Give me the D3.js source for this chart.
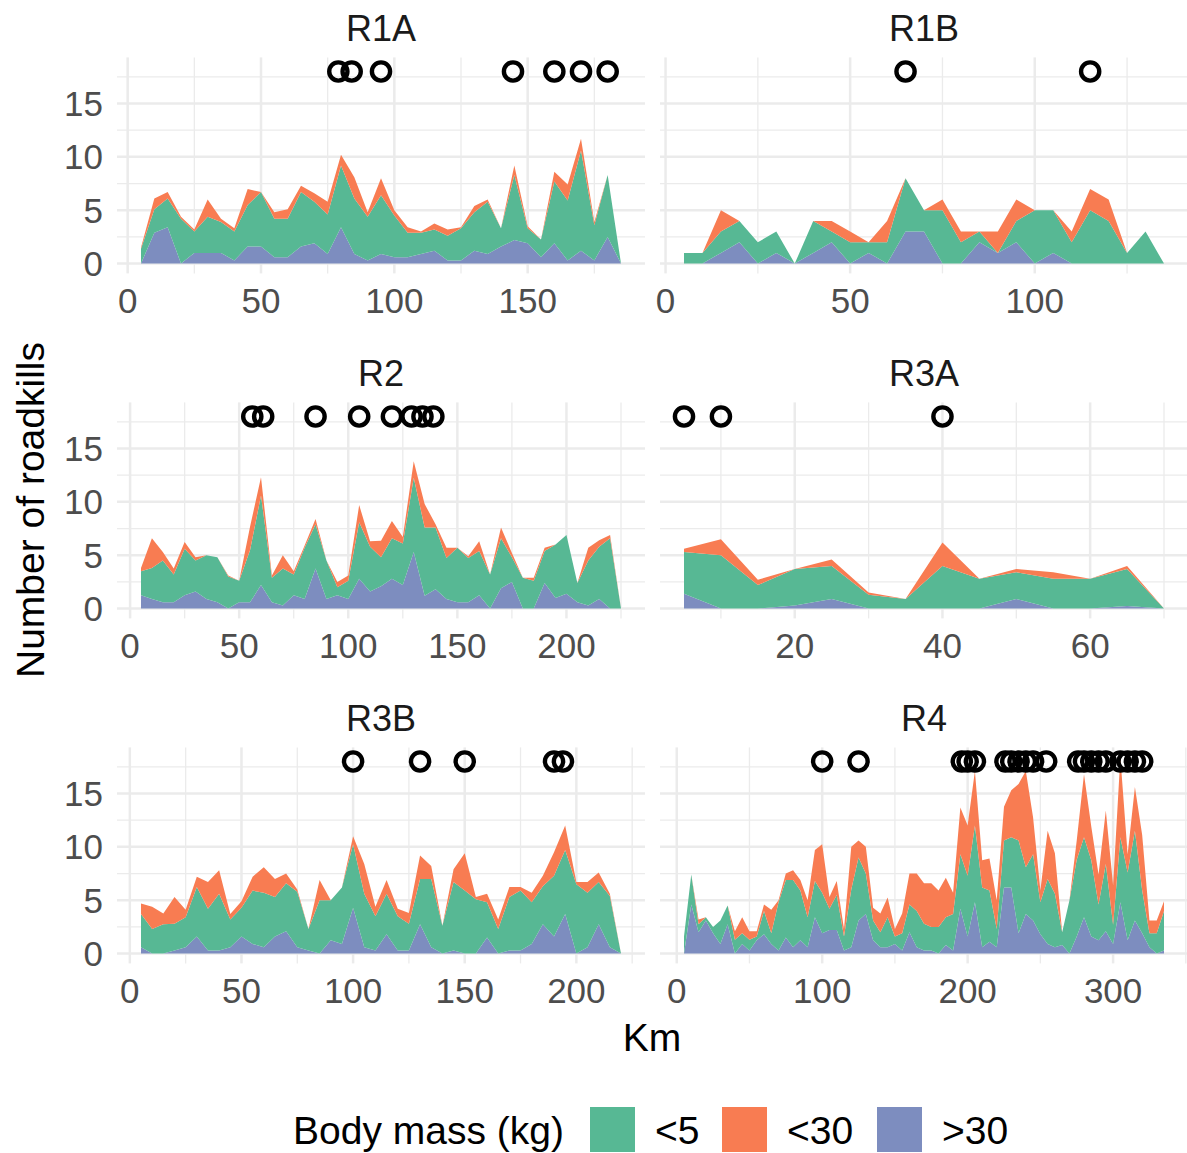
<!DOCTYPE html>
<html><head><meta charset="utf-8">
<script src="https://cdn.jsdelivr.net/npm/d3@7"></script>
<style>
body{margin:0;background:#fff}
text{font-family:"Liberation Sans",Arial,Helvetica,sans-serif}
</style>
</head><body>
<svg id="chart" width="1187" height="1153"></svg>
<script>
// ---------------- DATA ----------------
const panelNames = ["R1A","R1B","R2","R3A","R3B","R4"];
const seriesKeys = ["big","small","mid"];           // stacking order bottom -> top
const legendLabels = ["<5","<30",">30"];
const legendKeys = ["small","mid","big"];

const kmR1A = [5,10,15,20,25,30,35,40,45,50,55,60,65,70,75,80,85,90,95,100,105,110,115,120,125,130,135,140,145,150,155,160,165,170,175,180,185];
const smallR1A = [1.4,2.2,2.7,4.2,2.0,3.4,2.9,2.7,3.9,5.1,3.6,3.6,5.1,3.9,3.7,5.8,5.2,4.1,5.5,3.9,2.3,2.0,2.0,2.3,3.0,3.6,4.9,1.7,6.1,1.4,1.65,5.8,5.6,9.4,3.3,5.8,0];
const midR1A   = [0.1,1.0,0.6,0.2,0.2,1.6,0.3,0.3,1.5,0,0.6,0.9,0.6,0.8,1.2,1.0,2.0,0.4,1.6,0.5,0.5,0.1,0.55,0.6,0.1,0.6,0.2,0,0.9,0.2,0,0.9,1.5,1.1,0.3,0,0];
const bigR1A   = [0,2.9,3.4,0,1.0,1.0,1.0,0.3,1.6,1.6,0.6,0.6,1.6,1.9,0.9,3.4,0.9,0.3,0.9,0.6,0.6,0.9,1.2,0.3,0.3,1.2,0.9,1.6,2.2,1.9,0.6,1.9,0.3,1.2,0.3,2.5,0];
const eventsR1A = [79,84,95,144.5,160,170,180];

const kmR1B = [5,10,15,20,25,30,35,40,45,50,55,60,65,70,75,80,85,90,95,100,105,110,115,120,125,130,135];
const smallR1B = [1,1,2,2,2,2,0,3,1,2,1,2,5,2,5,2,1,0,2,5,4,2,5,4,1,3,0];
const midR1B   = [0,0,2,0,0,0,0,0,1,1,0,2,0,0,1,1,0,2,2,0,0,1,2,2,0,0,0];
const bigR1B   = [0,0,1,2,0,1,0,1,2,0,1,0,3,3,0,0,2,1,2,0,1,0,0,0,0,0,0];
const eventsR1B = [65,115];

const kmR2 = [5,10,15,20,25,30,35,40,45,50,55,60,65,70,75,80,85,90,95,100,105,110,115,120,125,130,135,140,145,150,155,160,165,170,175,180,185,190,195,200,205,210,215,220,225];
const smallR2 = [2.25,2.9,3.9,2.6,4.35,2.9,4.1,4.2,3.0,2.0,4.9,8.4,2.3,3.45,1.95,4.8,4.15,3.6,0.75,1.7,5.3,4.2,2.7,3.8,3.9,6.95,6.4,5.8,3.85,5.1,4.15,4.15,3.2,4.7,2.3,2.9,2.6,3.0,5.0,5.5,1.8,4.2,4.9,6.6,0];
const midR2   = [0.3,2.8,0.8,0.55,0.65,0.3,0,0,0.1,0,2.2,1.7,0.2,1.25,0.3,0.2,0.5,0,0.5,0.5,1.6,0.5,1.55,1.6,0.6,1.55,2.2,0.3,0.95,0,0.15,0.9,0,1.0,0.4,0,0.3,0.3,0,0,0,1.2,0.6,0.3,0];
const bigR2   = [1.25,0.9,0.6,0.6,1.25,1.6,0.9,0.6,0,0.6,0.6,2.2,0.6,0.3,1.25,0.9,3.75,0.9,1.25,0.9,2.8,1.6,2.1,2.8,2.2,5.3,1.2,1.8,0.9,0.6,0.6,1.25,0,1.9,2.5,0,0,2.4,1.0,1.4,0.6,0.3,0.9,0,0];
const eventsR2 = [56,61,85,105,120,129,134,139];

const kmR3A = [5,10,15,20,25,30,35,40,45,50,55,60,65,70];
const smallR3A = [3.9,5.0,2.2,3.4,3.1,1.3,0.9,4.0,2.8,2.5,2.8,2.8,3.45,0];
const midR3A   = [0.3,1.5,0.5,0,0.6,0.2,0,2.2,0,0.3,0.6,0,0.3,0];
const bigR3A   = [1.4,0,0,0.3,0.9,0,0,0,0,0.9,0,0,0.25,0];
const eventsR3A = [5,10,40];

const kmR3B = [5,10,15,20,25,30,35,40,45,50,55,60,65,70,75,80,85,90,95,100,105,110,115,120,125,130,135,140,145,150,155,160,165,170,175,180,185,190,195,200,205,210,215,220];
const smallR3B = [3.1,2.3,2.75,2.5,2.8,4.65,3.9,5.3,2.6,2.7,5.0,5.1,3.7,4.5,5.2,2.0,5.0,3.75,5.3,5.95,5.0,3.2,3.8,3.2,2.5,4.25,6.4,2.6,6.4,5.9,5.1,3.3,2.3,5.0,5.6,3.9,3.55,5.7,6.0,6.5,5.1,3.95,4.8,0];
const midR3B   = [1.0,2.1,1.0,2.5,0.7,0.95,2.5,2.2,0.5,0.6,1.3,2.4,1.7,0.9,0.2,0,1.9,0,0,0.75,2.8,0.9,1.3,0.7,1.0,2.2,1.2,0,1.2,3.5,0.2,0.8,0.9,0.95,0.35,0.9,1.0,2.2,2.3,0.2,1.0,0.9,0.2,0];
const bigR3B   = [0.6,0,0,0.3,0.6,1.6,0.3,0.3,0.6,1.6,0.9,0.6,1.6,2.1,0.6,0.3,0,1.25,0.9,4.3,0.6,0.3,1.8,0.3,0.3,2.75,0.6,0,0.3,0,0,1.5,0,0.3,0.3,0.9,2.75,1.6,3.7,0,0.6,2.75,0.6,0];
const eventsR3B = [100,130,150,190,194];

const kmR4 = [5,10,15,20,25,30,35,40,45,50,55,60,65,70,75,80,85,90,95,100,105,110,115,120,125,130,135,140,145,150,155,160,165,170,175,180,185,190,195,200,205,210,215,220,225,230,235,240,245,250,255,260,265,270,275,280,285,290,295,300,305,310,315,320,325,330,335];
const smallR4 = [1.6,2.8,0.75,0.3,0.6,2.2,1.75,1.3,1.0,1.0,0.35,2.2,1.0,4.5,5.4,6.3,4.65,2.8,3.4,3.8,2.0,3.3,1.3,5.4,5.9,3.8,1.85,1.4,2.8,0.7,1.6,2.6,3.4,2.5,2.2,2.5,2.6,3.4,5.1,5.7,7.2,5.6,4.8,1.7,4.4,4.7,8.7,4.4,6.2,3.0,6.1,5.0,1.2,5.0,7.2,7.5,7.15,3.35,6.3,1.8,6.1,6.35,8.4,4.0,1.3,1.9,3.7];
const midR4   = [0,0,0.45,0,0,0,0,0.8,1.5,0.8,0.5,0.6,2.2,0.2,0.6,0.9,1.0,1.6,2.9,4.55,1.1,1.3,0.7,4.0,1.6,2.5,1.2,1.75,1.85,0.7,1.85,2.9,3.5,3.8,4.1,3.4,3.7,2.0,4.4,4.7,5.1,2.55,3.0,2.7,3.15,4.4,5.3,9.0,3.45,1.1,4.5,3.8,0,0,1.8,5.9,3.15,2.8,5.0,3.7,7.5,1.7,4.1,5.2,1.2,1.2,0.9];
const bigR4   = [0,4.6,2.0,3.1,1.9,0.9,2.75,0,0.9,0.3,1.25,1.8,0.9,0.3,1.5,0.6,1.25,0.6,3.4,1.9,2.2,2.2,0.3,0.6,3.1,3.7,1.25,0.6,0.6,0.9,0.3,2.0,0.6,0.3,0.3,0,0.8,0.3,4.2,1.6,4.8,0.6,1.1,0.6,6.2,6.2,1.9,3.7,3.1,1.8,0.9,0.6,0.8,0,1.6,3.4,1.6,1.25,2.1,0.9,4.8,1.25,3.1,1.9,0.6,0,0.3];
const eventsR4 = [100,125,196,200,205,226,230,235,240,245,254,276,280,285,290,295,305,310,315,320];

const majorTicks = {R1A:[0,50,100,150], R1B:[0,50,100], R2:[0,50,100,150,200], R3A:[20,40,60], R3B:[0,50,100,150,200], R4:[0,100,200,300]};
const minorTicks = {R1A:[25,75,125,175], R1B:[25,75,125], R2:[25,75,125,175,225], R3A:[10,30,50,70], R3B:[25,75,125,175,225], R4:[50,150,250,350]};
const yMajor = [0,5,10,15];
const yMinor = [2.5,7.5,12.5,17.5];
const eventLevel = 18;

// ---------------- BUILD ----------------
const src = {
  R1A:{km:kmR1A, small:smallR1A, mid:midR1A, big:bigR1A, ev:eventsR1A},
  R1B:{km:kmR1B, small:smallR1B, mid:midR1B, big:bigR1B, ev:eventsR1B},
  R2:{km:kmR2, small:smallR2, mid:midR2, big:bigR2, ev:eventsR2},
  R3A:{km:kmR3A, small:smallR3A, mid:midR3A, big:bigR3A, ev:eventsR3A},
  R3B:{km:kmR3B, small:smallR3B, mid:midR3B, big:bigR3B, ev:eventsR3B},
  R4:{km:kmR4, small:smallR4, mid:midR4, big:bigR4, ev:eventsR4}
};
const colors = {small:"#57B894", mid:"#F87C52", big:"#7D8DBF"};

const svg = d3.select("#chart");
svg.append("rect").attr("width",1187).attr("height",1153).attr("fill","#fff");

const colX = [[117,645],[660,1188]];
const rowY0 = 57.4, rowH = 216, rowStep = 345;
const yDomain = [-0.92, 19.32];

panelNames.forEach((name, i) => {
  const col = i % 2, row = Math.floor(i / 2);
  const d = src[name];
  const [x0, x1] = colX[col];
  const top = rowY0 + row * rowStep, bottom = top + rowH;
  const lo = Math.min(d3.min(d.km), d3.min(d.ev)), hi = Math.max(d3.max(d.km), d3.max(d.ev));
  const pad = (hi - lo) * 0.05;
  const x = d3.scaleLinear().domain([lo - pad, hi + pad]).range([x0, x1]);
  const y = d3.scaleLinear().domain(yDomain).range([bottom, top]);
  const g = svg.append("g");

  // grid
  const inX = v => v >= x.domain()[0] && v <= x.domain()[1];
  g.selectAll(".ymin").data(yMinor).enter().append("line")
    .attr("x1",x0).attr("x2",x1).attr("y1",v=>y(v)).attr("y2",v=>y(v))
    .attr("stroke","#EBEBEB").attr("stroke-width",1.3);
  g.selectAll(".xmin").data(minorTicks[name].filter(inX)).enter().append("line")
    .attr("y1",top).attr("y2",bottom).attr("x1",v=>x(v)).attr("x2",v=>x(v))
    .attr("stroke","#EBEBEB").attr("stroke-width",1.3);
  g.selectAll(".ymaj").data(yMajor).enter().append("line")
    .attr("x1",x0).attr("x2",x1).attr("y1",v=>y(v)).attr("y2",v=>y(v))
    .attr("stroke","#EBEBEB").attr("stroke-width",2.5);
  g.selectAll(".xmaj").data(majorTicks[name]).enter().append("line")
    .attr("y1",top).attr("y2",bottom).attr("x1",v=>x(v)).attr("x2",v=>x(v))
    .attr("stroke","#EBEBEB").attr("stroke-width",2.5);

  // stacked areas
  const rows = d.km.map((k, j) => ({km:k, small:d.small[j], mid:d.mid[j], big:d.big[j]}));
  const stack = d3.stack().keys(seriesKeys)(rows);
  const area = d3.area().x(p => x(p.data.km)).y0(p => y(p[0])).y1(p => y(p[1]));
  g.selectAll(".layer").data(stack).enter().append("path")
    .attr("d", area).attr("fill", s => colors[s.key]);

  // events
  g.selectAll(".ev").data(d.ev).enter().append("circle")
    .attr("cx", v => x(v)).attr("cy", y(eventLevel)).attr("r", 9.1)
    .attr("fill","none").attr("stroke","#000").attr("stroke-width",4.4);

  // axes text
  svg.append("text").attr("x",(x0+x1)/2).attr("y",top-29+12.5)
    .attr("text-anchor","middle").attr("font-size",36).attr("fill","#1A1A1A").text(name);
  g.selectAll(".xl").data(majorTicks[name]).enter().append("text")
    .attr("x", v => x(v)).attr("y", bottom + 40)
    .attr("text-anchor","middle").attr("font-size",35).attr("fill","#4D4D4D").text(v => v);
  if (col === 0) {
    g.selectAll(".yl").data(yMajor).enter().append("text")
      .attr("x", 103).attr("y", v => y(v) + 12.5)
      .attr("text-anchor","end").attr("font-size",35).attr("fill","#4D4D4D").text(v => v);
  }
});

// axis titles
svg.append("text").attr("x",652).attr("y",1051).attr("text-anchor","middle")
  .attr("font-size",39).attr("fill","#000").text("Km");
svg.append("text").attr("transform","translate(44,510) rotate(-90)").attr("text-anchor","middle")
  .attr("font-size",39).attr("fill","#000").text("Number of roadkills");

// legend
const leg = svg.append("g");
leg.append("text").attr("x",293).attr("y",1144).attr("font-size",39).attr("fill","#000").text("Body mass (kg)");
const keyX = [590, 722, 877];
legendKeys.forEach((k, i) => {
  leg.append("rect").attr("x",keyX[i]).attr("y",1107).attr("width",45).attr("height",45).attr("fill",colors[k]);
  leg.append("text").attr("x",keyX[i]+65).attr("y",1144).attr("font-size",39).attr("fill","#000").text(legendLabels[i]);
});
</script>
</body></html>
